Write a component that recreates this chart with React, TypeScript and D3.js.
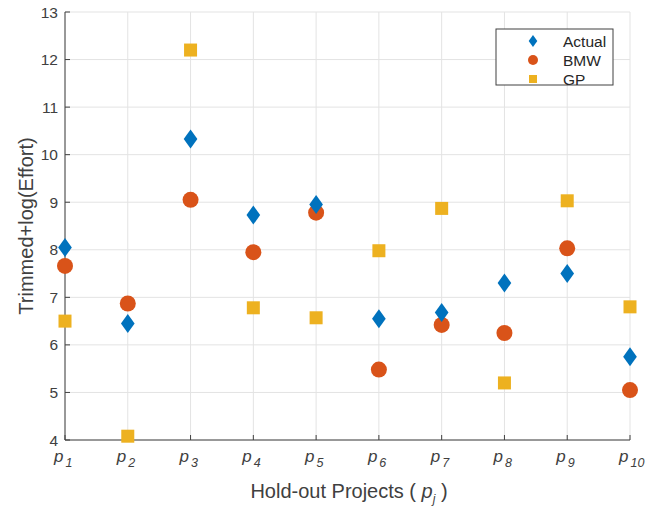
import React from "react";
import * as d3 from "d3";

const categories = ["1", "2", "3", "4", "5", "6", "7", "8", "9", "10"];
const actual = [8.05, 6.45, 10.33, 8.73, 8.95, 6.55, 6.68, 7.3, 7.5, 5.75];
const bmw = [7.66, 6.87, 9.05, 7.95, 8.78, 5.48, 6.42, 6.25, 8.03, 5.05];
const gp = [6.5, 4.08, 12.2, 6.78, 6.57, 7.98, 8.87, 5.2, 9.03, 6.8];
const yTicks = [4, 5, 6, 7, 8, 9, 10, 11, 12, 13];

const W = 655, H = 506;
const L = 65, R = 630, T = 12, B = 440;
const FONT = "'Liberation Sans', Arial, sans-serif";
const AX = "#404040";
const C_ACT = "#0072BD", C_BMW = "#D95319", C_GP = "#EDB120";

export default function App() {
  const x = d3.scalePoint<string>().domain(categories).range([L, R]);
  const y = d3.scaleLinear().domain([4, 13]).range([B, T]);
  const diamond = (cx: number, cy: number, s: number) =>
    `M${cx},${cy - s}L${cx + s * 0.72},${cy}L${cx},${cy + s}L${cx - s * 0.72},${cy}Z`;
  return (
    <svg width={W} height={H} style={{ position: "absolute", left: 0, top: 0, background: "#fff" }}>
      {/* grid */}
      {categories.map((c) => (
        <line key={"gx" + c} x1={x(c)} x2={x(c)} y1={T} y2={B} stroke="#e3e3e3" strokeWidth={1} />
      ))}
      {yTicks.map((t) => (
        <line key={"gy" + t} x1={L} x2={R} y1={y(t)} y2={y(t)} stroke="#e3e3e3" strokeWidth={1} />
      ))}
      {/* axes */}
      <line x1={L} x2={L} y1={T} y2={B} stroke={AX} strokeWidth={1} />
      <line x1={L} x2={R} y1={B} y2={B} stroke={AX} strokeWidth={1} />
      {yTicks.map((t) => (
        <g key={"ty" + t}>
          <line x1={L} x2={L + 5} y1={y(t)} y2={y(t)} stroke={AX} />
          <text x={L - 7} y={y(t) + 5.5} textAnchor="end" fontFamily={FONT} fontSize={15.5} fill={AX}>
            {t}
          </text>
        </g>
      ))}
      {categories.map((c) => (
        <g key={"tx" + c}>
          <line x1={x(c)} x2={x(c)} y1={B} y2={B - 5} stroke={AX} />
          <text x={(x(c) as number) - 11} y={B + 22} fontFamily={FONT} fontSize={17} fill={AX} fontStyle="italic">
            p
            <tspan fontSize={12.5} dy={5} dx={2}>{c}</tspan>
          </text>
        </g>
      ))}
      <text x={349} y={498} textAnchor="middle" fontFamily={FONT} fontSize={20} fill={AX}>
        Hold-out Projects (
        <tspan fontStyle="italic"> p</tspan>
        <tspan fontStyle="italic" fontSize={12} dy={5}>j</tspan>
        <tspan dy={-5}> )</tspan>
      </text>
      <text
        transform={`translate(33,${(T + B) / 2}) rotate(-90)`}
        textAnchor="middle"
        fontFamily={FONT}
        fontSize={20}
        fill={AX}
      >
        Trimmed+log(Effort)
      </text>
      {/* markers */}
      {gp.map((v, i) => (
        <rect key={"g" + i} x={(x(categories[i]) as number) - 6.5} y={y(v) - 6.5} width={13} height={13} fill={C_GP} />
      ))}
      {bmw.map((v, i) => (
        <circle key={"b" + i} cx={x(categories[i])} cy={y(v)} r={8} fill={C_BMW} />
      ))}
      {actual.map((v, i) => (
        <path key={"a" + i} d={diamond(x(categories[i]) as number, y(v), 9.5)} fill={C_ACT} />
      ))}
      {/* legend */}
      <rect x={496} y={29} width={117} height={56} fill="#fff" stroke="#404040" strokeWidth={1} />
      <path d={diamond(533, 41, 6)} fill={C_ACT} />
      <circle cx={533} cy={60} r={5} fill={C_BMW} />
      <rect x={529} y={75} width={8} height={8} fill={C_GP} />
      <text x={563} y={46.5} fontFamily={FONT} fontSize={15.5} fill="#262626">Actual</text>
      <text x={563} y={65.5} fontFamily={FONT} fontSize={15.5} fill="#262626">BMW</text>
      <text x={563} y={84.5} fontFamily={FONT} fontSize={15.5} fill="#262626">GP</text>
    </svg>
  );
}
